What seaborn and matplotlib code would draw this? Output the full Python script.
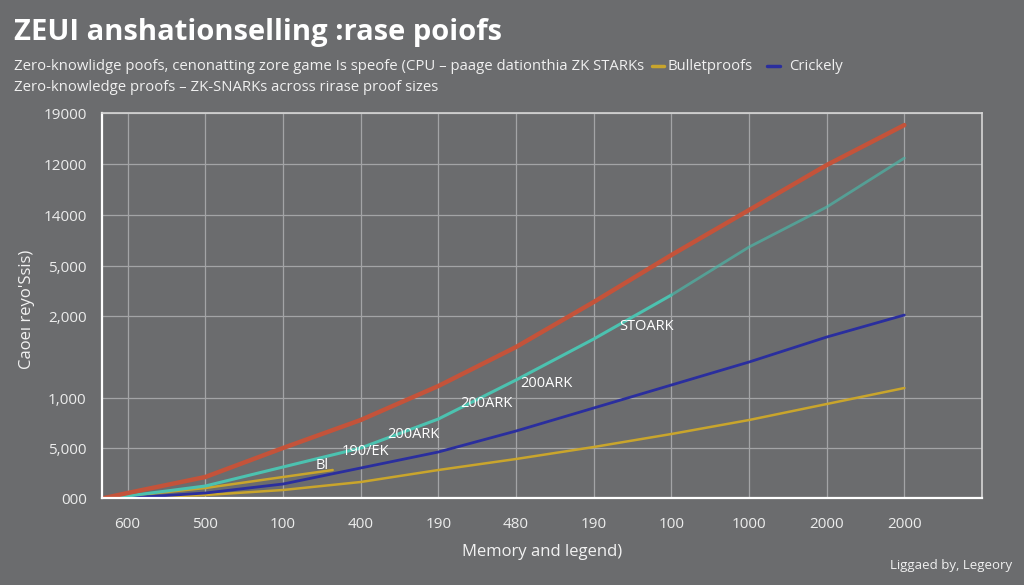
import numpy as np
import pandas as pd
import seaborn as sns
import matplotlib.pyplot as plt
from matplotlib.lines import Line2D

# tick labels as printed on the chart
x_ticks = [0, 1, 2, 3, 4, 5, 6, 7, 8, 9, 10]
x_labels = ['600', '500', '100', '400', '190', '480', '190', '100', '1000', '2000', '2000']
y_ticks = [0, 50, 100, 182, 232, 283, 334, 385]
y_labels = ['000', '5,000', '1,000', '2,000', '5,000', '14000', '12000', '19000']

# series (in axis units)
x_pts = [-0.3, 0, 1, 2, 3, 4, 5, 6, 7, 8, 9, 10]
red_vals = [0, 5, 21, 50, 78, 112, 151, 196, 243, 288, 333, 373]
teal_vals = [0, 2, 12, 31, 50, 79, 118, 159, 203, 251, 291, 340]
blue_vals = [0, 0, 5, 14, 30, 46, 67, 90, 113, 136, 161, 183]
gold_vals = [0, 0, 3, 8, 16, 28, 39, 51, 64, 78, 94, 110]
short_x = [-0.28, 0, 1, 2, 2.64]
short_vals = [0, 2, 10, 21, 28]

# in-plot labels
ann_text = ['Bl', '190/EK', '200ARK', '200ARK', '200ARK', 'STOARK']
ann_x = [2.51, 3.06, 3.68, 4.62, 5.39, 6.68]
ann_y = [33, 47, 64, 95, 115, 172]

bg = '#6b6c6e'
sns.set_theme(style='darkgrid', rc={
    'figure.facecolor': bg, 'axes.facecolor': bg,
    'grid.color': '#a3a4a6', 'grid.linewidth': 0.9,
    'text.color': 'white', 'xtick.color': '#ececec', 'ytick.color': '#ececec',
})
plt.rcParams['font.family'] = ['Open Sans', 'DejaVu Sans']

fig = plt.figure(figsize=(10.24, 5.85), dpi=100)
ax = fig.add_axes([0.0996, 0.1487, 0.8594, 0.658])

df = pd.DataFrame({'x': x_pts, 'red': red_vals, 'teal': teal_vals,
                   'blue': blue_vals, 'gold': gold_vals})
sns.lineplot(data=df, x='x', y='gold', color='#c9a52c', linewidth=1.8, ax=ax)
sns.lineplot(x=short_x, y=short_vals, color='#c9a52c', linewidth=1.8, ax=ax)
sns.lineplot(data=df, x='x', y='blue', color='#2a2e9e', linewidth=2.0, ax=ax)
sns.lineplot(data=df.iloc[:9], x='x', y='teal', color='#4cc2b0', linewidth=2.2, ax=ax)
sns.lineplot(data=df.iloc[8:], x='x', y='teal', color='#4cb5a6', linewidth=2.0, alpha=0.7, ax=ax)
sns.lineplot(data=df, x='x', y='red', color='#c4533a', linewidth=3.2, ax=ax)

for t, xx, yy in zip(ann_text, ann_x, ann_y):
    ax.text(xx, yy, t, color='white', fontsize=10.5, ha='center', va='center')

ax.set_xlim(-0.33, 11.0)
ax.set_ylim(0, 385)
ax.set_xticks(x_ticks)
ax.set_xticklabels(x_labels, fontsize=11)
ax.set_yticks(y_ticks)
ax.set_yticklabels(y_labels, fontsize=11)
ax.tick_params(axis='y', length=8, width=1.2, color='white', pad=3)
ax.tick_params(axis='x', length=5, width=1.2, color='white', pad=9)
ax.set_xlabel('Memory and legend)', fontsize=12, color='#f2f2f2', labelpad=8)
ax.set_ylabel("Caoeı reyo'Ssis)", fontsize=12, color='#f2f2f2')
ax.yaxis.set_label_coords(-0.076, 0.49)
for side in ['left', 'bottom']:
    ax.spines[side].set_visible(True)
    ax.spines[side].set_color('white')
    ax.spines[side].set_linewidth(1.6)
for side in ['top', 'right']:
    ax.spines[side].set_visible(True)
    ax.spines[side].set_color('#d6d6d6')
    ax.spines[side].set_linewidth(1.2)

fig.text(0.014, 0.944, 'ZEUI anshationselling :rase poiofs', fontsize=21,
         fontweight='bold', color='white', va='center')
fig.text(0.014, 0.887, 'Zero-knowlidge poofs, cenonatting zore game Is speofe (CPU – paage dationthia ZK STARKs',
         fontsize=10.7, color='#f0f0f0', va='center')
fig.add_artist(Line2D([0.637, 0.648], [0.887, 0.887], color='#c9a52c', linewidth=2.5))
fig.text(0.652, 0.887, 'Bulletproofs', fontsize=10.7, color='#f0f0f0', va='center')
fig.add_artist(Line2D([0.749, 0.762], [0.887, 0.887], color='#2a2e9e', linewidth=2.5))
fig.text(0.771, 0.887, 'Crickely', fontsize=10.7, color='#f0f0f0', va='center')
fig.text(0.014, 0.851, 'Zero-knowledge proofs – ZK-SNARKs across rirase proof sizes',
         fontsize=10.7, color='#f0f0f0', va='center')
fig.text(0.988, 0.028, 'Liggaed by, Legeory', fontsize=9.5, color='#f0f0f0', ha='right')

fig.savefig('out.png', dpi=100, facecolor=bg)
